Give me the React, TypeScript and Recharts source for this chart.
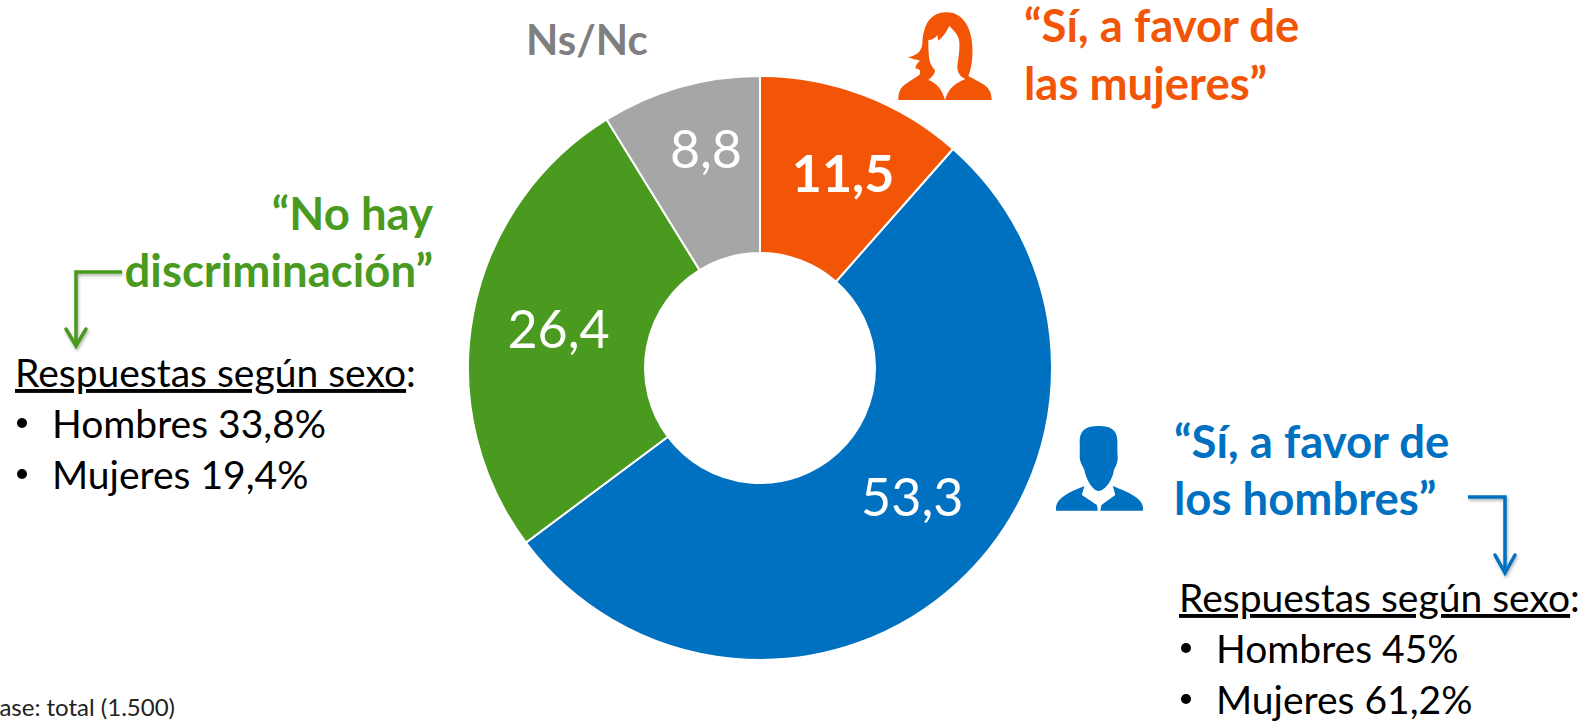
import { Pie, PieChart } from "recharts";

const categories = [
  "Sí, a favor de las mujeres",
  "Sí, a favor de los hombres",
  "No hay discriminación",
  "Ns/Nc",
];
const shares = [11.5, 53.3, 26.4, 8.8];
const sliceColors = ["#F25506", "#0070C0", "#4A9A1F", "#A6A6A6"];

const greenBreakdown = ["Hombres 33,8%", "Mujeres 19,4%"];
const blueBreakdown = ["Hombres 45%", "Mujeres 61,2%"];

const ORANGE = sliceColors[0];
const BLUE = sliceColors[1];
const GREEN = sliceColors[2];
const FONT = "Lato, 'Open Sans', sans-serif";
const RAD = Math.PI / 180;

// the labels were placed by hand in the original, not on the ring's centre line
const labelNudges = [
  [11, -5],
  [14, -22],
  [-1, -2],
  [6, -8],
];

const pieData = categories.map((name, i) => ({
  name,
  value: shares[i],
  fill: sliceColors[i],
}));

function SliceLabel(props: any) {
  const { cx, cy, midAngle, index, value } = props;
  const r = index === 3 ? 220 : 204;
  const x = cx + r * Math.cos(-midAngle * RAD) + labelNudges[index][0];
  const y = cy + r * Math.sin(-midAngle * RAD) + labelNudges[index][1];
  return (
    <text
      x={x}
      y={y}
      fill="#fff"
      fontFamily={FONT}
      fontSize={52}
      fontWeight={index === 0 ? 700 : 400}
      textAnchor="middle"
      dominantBaseline="central"
    >
      {value.toFixed(1).replace(".", ",")}
    </text>
  );
}

function Heading({ x, y, color, anchor = "start", size = 45.5, children }: any) {
  return (
    <text x={x} y={y} fill={color} fontFamily={FONT} fontSize={size} fontWeight={700} textAnchor={anchor}>
      {children}
    </text>
  );
}

function Breakdown({ x, y, items }: { x: number; y: number; items: string[] }) {
  return (
    <g fontFamily={FONT} fontSize={39} fill="#000">
      <text x={x} y={y}>
        <tspan textDecoration="underline">Respuestas según sexo</tspan>:
      </text>
      {items.map((item, i) => (
        <g key={item}>
          <circle cx={x + 7} cy={y + 36 + i * 51} r={5} />
          <text x={x + 37} y={y + 51 + i * 51}>
            {item}
          </text>
        </g>
      ))}
    </g>
  );
}

function Arrow({ d, head, color }: { d: string; head: string; color: string }) {
  return (
    <g fill="none" stroke={color} strokeWidth={3.5} filter="url(#arrowShadow)">
      <path d={d} />
      <path d={head} strokeLinecap="round" />
    </g>
  );
}

function WomanIcon() {
  return (
    <g transform="translate(880,0) scale(0.3333)">
      <path
        fill={ORANGE}
        d="M200 37C150 37 130 75 127 130C125 155 110 168 84 171C95 178 110 178 120 182C110 192 104 200 108 206C118 205 125 212 118 225L80 250C62 262 55 275 55 300L335 300C335 275 325 262 305 250L265 228C278 200 280 150 275 120C268 70 240 37 200 37Z"
      />
      <path
        fill="#fff"
        d="M145 120C155 120 165 115 172 105L175 122C190 110 200 95 208 78C225 95 235 105 238 125C240 160 232 185 232 205C235 225 245 232 256 237C225 250 205 265 195 300C185 265 170 250 145 240C155 232 165 222 165 210C150 195 145 180 145 120Z"
      />
    </g>
  );
}

function ManIcon() {
  return (
    <g transform="translate(1040,410) scale(0.355,0.3333)" fill={BLUE}>
      <path d="M165 48C130 48 110 60 112 100L112 130C110 160 122 170 125 180C130 210 150 243 165 243C182 243 205 210 208 180C212 170 222 160 218 130L218 100C220 60 200 48 165 48Z" />
      <path d="M125 228C85 245 50 262 45 290L45 302L163 302L160 285L118 255Z" />
      <path d="M205 228C245 245 285 262 290 290L290 302L170 302L173 285L212 255Z" />
    </g>
  );
}

export default function App() {
  return (
    <div style={{ position: "absolute", left: 0, top: 0, width: 1591, height: 721, overflow: "hidden" }}>
      <PieChart width={1591} height={721} margin={{ top: 0, right: 0, bottom: 0, left: 0 }}>
        <defs>
          <filter id="arrowShadow" x="-30%" y="-30%" width="160%" height="160%">
            <feDropShadow dx="1" dy="2" stdDeviation="1.5" floodColor="#000" floodOpacity="0.3" />
          </filter>
        </defs>
        <Pie
          data={pieData}
          dataKey="value"
          nameKey="name"
          cx={760}
          cy={368}
          innerRadius={115}
          outerRadius={292}
          startAngle={90}
          endAngle={-270}
          stroke="#fff"
          strokeWidth={2}
          label={SliceLabel}
          labelLine={false}
          isAnimationActive={false}
        />
        <Heading x={526} y={55} color="#7F7F7F" size={42}>Ns/Nc</Heading>
        <Heading x={1024} y={42} color={ORANGE}>“Sí, a favor de</Heading>
        <Heading x={1024} y={100} color={ORANGE}>las mujeres”</Heading>
        <Heading x={1174} y={458} color={BLUE}>“Sí, a favor de</Heading>
        <Heading x={1174} y={515} color={BLUE}>los hombres”</Heading>
        <Heading x={433} y={230} color={GREEN} anchor="end">“No hay</Heading>
        <Heading x={433} y={287} color={GREEN} anchor="end">discriminación”</Heading>
        <Arrow d="M122 272H76V345" head="M66 329L76 346L86 329" color={GREEN} />
        <Arrow d="M1468 497H1505V572" head="M1495 555L1505 573L1515 555" color={BLUE} />
        <Breakdown x={15} y={387} items={greenBreakdown} />
        <Breakdown x={1179} y={612} items={blueBreakdown} />
        <text x={175} y={716} fontFamily={FONT} fontSize={24} fill="#222" textAnchor="end">
          Base: total (1.500)
        </text>
        <WomanIcon />
        <ManIcon />
      </PieChart>
    </div>
  );
}
